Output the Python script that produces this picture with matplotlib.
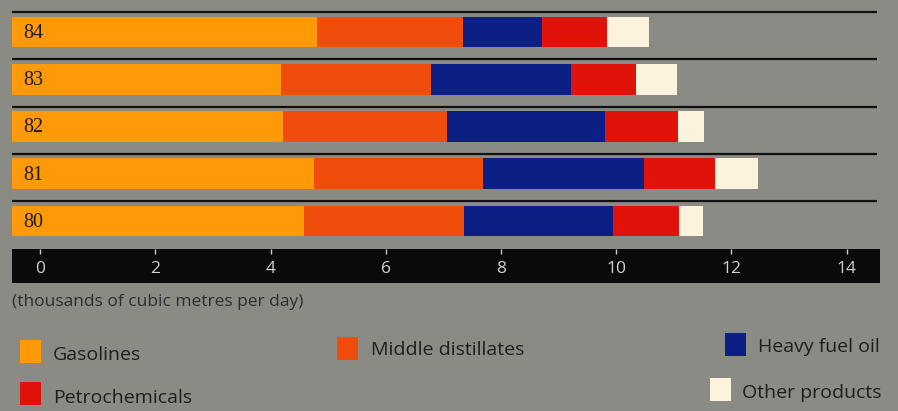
import matplotlib.pyplot as plt
from matplotlib.patches import Rectangle

# refinery output by product, thousands of cubic metres per day
years = ['84', '83', '82', '81', '80']
gasolines = [4.81, 4.18, 4.22, 4.76, 4.58]
middle_distillates = [2.53, 2.60, 2.85, 2.93, 2.78]
heavy_fuel_oil = [1.37, 2.43, 2.73, 2.80, 2.59]
petrochemicals = [1.13, 1.13, 1.27, 1.23, 1.14]
other_products = [0.73, 0.71, 0.45, 0.75, 0.42]
xticks = [0, 2, 4, 6, 8, 10, 12, 14]
unit_label = '(thousands of cubic metres per day)'

bg = '#8b8b85'
colors = {
    'Gasolines': '#fe9a08',
    'Middle distillates': '#f04c0c',
    'Heavy fuel oil': '#0b1f85',
    'Petrochemicals': '#e0120a',
    'Other products': '#fbf3dc',
}
sans = ['Open Sans', 'DejaVu Sans']

W, H = 898, 411
fig = plt.figure(figsize=(W / 100, H / 100), dpi=100, facecolor=bg)

x0, x1 = -0.49, 14.58

# bars
ax = fig.add_axes([12 / W, (H - 245) / H, 868 / W, 237 / H])
ax.set_facecolor(bg)
ax.set_xlim(x0, x1)
ax.set_ylim(4.508, -0.508)
ax.axis('off')

ypos = list(range(len(years)))
series = [('Gasolines', gasolines), ('Middle distillates', middle_distillates),
          ('Heavy fuel oil', heavy_fuel_oil), ('Petrochemicals', petrochemicals),
          ('Other products', other_products)]
left = [x0] * len(years)
for name, vals in series:
    widths = list(vals)
    if name == 'Gasolines':
        widths = [v - x0 for v in vals]
    ax.barh(ypos, widths, left=left, height=0.656, color=colors[name], linewidth=0)
    left = [l + w for l, w in zip(left, widths)]

for i, yr in enumerate(years):
    ax.hlines(i - 0.42, x0, 14.53, color='#111111', lw=1.6)
    ax.text(x0 + 0.2, i + 0.03, yr, ha='left', va='center', fontsize=14.5,
            family='Liberation Serif', color='#1a1a1a')

# black scale band
ax2 = fig.add_axes([12 / W, (H - 283) / H, 868 / W, 34 / H])
ax2.set_facecolor('#0a0a0a')
ax2.set_xlim(x0, x1)
ax2.set_ylim(0, 1)
ax2.set_xticks([])
ax2.set_yticks([])
for s in ax2.spines.values():
    s.set_visible(False)
for t in xticks:
    ax2.vlines(t, 0.86, 1.0, color='#cfcfcf', lw=1)
    ax2.text(t, 0.42, str(t), ha='center', va='center', fontsize=12.5,
             family=sans, color='#d0d0d0')

fig.text(12 / W, 1 - 302 / H, unit_label, ha='left', va='center', fontsize=12.5,
         family=sans, color='#2e2e2e')

# legend
legend_items = [
    ('Gasolines', 20, 340, 53, 355),
    ('Middle distillates', 337, 337, 371, 350),
    ('Heavy fuel oil', 725, 333, 758, 347),
    ('Petrochemicals', 20, 382, 53, 398),
    ('Other products', 710, 378, 742, 393),
]
for name, sx, sy, tx, ty in legend_items:
    fig.add_artist(Rectangle((sx / W, 1 - (sy + 23) / H), 21 / W, 23 / H,
                             transform=fig.transFigure, color=colors[name], lw=0))
    fig.text(tx / W, 1 - ty / H, name, ha='left', va='center', fontsize=14,
             family=sans, color='#1e1e1e')

fig.savefig('out.png', dpi=100, facecolor=bg)
